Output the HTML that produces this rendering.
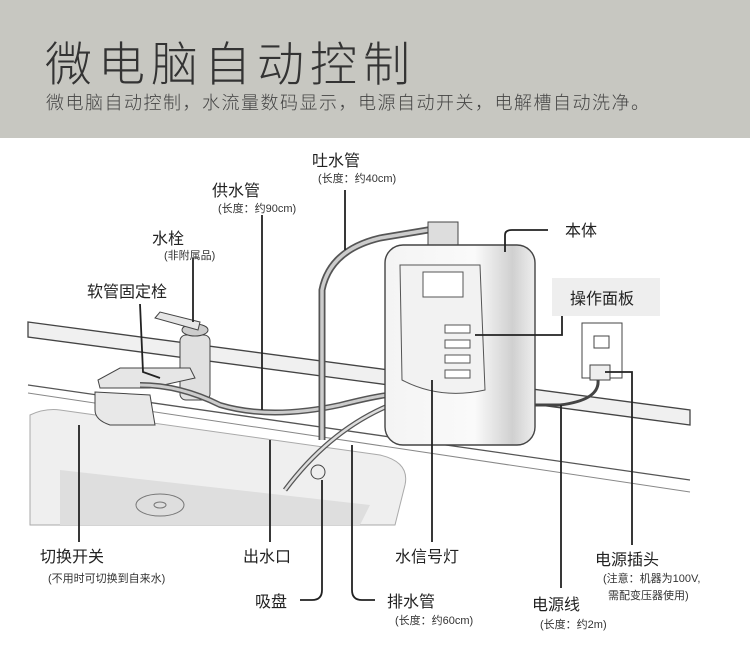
<!DOCTYPE html>
<html><head><meta charset="utf-8"><style>
html,body{margin:0;padding:0;background:#fff;}
body{width:750px;height:648px;position:relative;overflow:hidden;font-family:"Liberation Sans","Noto Sans CJK SC",sans-serif;}
.hdr{position:absolute;left:0;top:0;width:750px;height:138px;background:#c7c7c1;}
.t{position:absolute;left:45px;top:26px;font-size:47px;color:#333;letter-spacing:6px;font-weight:200;}
.s{position:absolute;left:46px;top:89px;font-size:18px;color:#444;letter-spacing:1.5px;font-weight:300;}
</style></head><body>
<div class="hdr"><div class="t">微电脑自动控制</div><div class="s">微电脑自动控制，水流量数码显示，电源自动开关，电解槽自动洗净。</div></div>
<svg width="750" height="648" style="position:absolute;left:0;top:0" font-family="Liberation Sans, Noto Sans CJK SC, sans-serif">
<defs><linearGradient id="g" x1="0" y1="0" x2="0" y2="1"><stop offset="0" stop-color="#e4e4e4"/><stop offset="1" stop-color="#f2f2f2"/></linearGradient>
<linearGradient id="b" x1="0" x2="1"><stop offset="0" stop-color="#f4f4f4"/><stop offset="0.6" stop-color="#fafafa"/><stop offset="0.85" stop-color="#d0d0d0"/><stop offset="1" stop-color="#eee"/></linearGradient></defs>
<!-- counter -->
<polygon points="28,322 690,410 690,425 28,337" fill="#f0f0f0" stroke="#444" stroke-width="1.3"/>
<line x1="28" y1="385" x2="690" y2="480" stroke="#555" stroke-width="1.3"/>
<line x1="28" y1="393" x2="690" y2="492" stroke="#888" stroke-width="1"/>
<!-- sink -->
<path d="M30,415 Q45,408 60,410 L380,455 Q410,462 405,485 L395,525 L30,525 Z" fill="#efefef" stroke="#aaa"/>
<path d="M60,470 L370,505 L360,525 L60,525 Z" fill="#dedede"/>
<ellipse cx="160" cy="505" rx="24" ry="11" fill="none" stroke="#777"/>
<ellipse cx="160" cy="505" rx="6" ry="3" fill="none" stroke="#777"/>
<!-- faucet -->
<rect x="180" y="335" width="30" height="65" rx="6" fill="#e0e0e0" stroke="#444"/>
<ellipse cx="195" cy="330" rx="13" ry="6" fill="#ccc" stroke="#444"/>
<path d="M155,318 L160,312 L200,322 L198,330 Z" fill="#e6e6e6" stroke="#444"/>
<path d="M190,368 L120,368 L98,380 L100,388 L150,388 L195,378 Z" fill="#e6e6e6" stroke="#444"/>
<path d="M95,392 L150,395 L155,425 L110,425 Q95,420 95,410 Z" fill="#e8e8e8" stroke="#444"/>
<!-- hoses -->
<path d="M140,385 Q180,385 220,405 Q270,420 340,405 Q380,395 390,395" fill="none" stroke="#555" stroke-width="6"/>
<path d="M140,385 Q180,385 220,405 Q270,420 340,405 Q380,395 390,395" fill="none" stroke="#ccc" stroke-width="3"/>
<path d="M322,440 L322,290 Q330,250 380,238 L440,228" fill="none" stroke="#555" stroke-width="7"/>
<path d="M322,440 L322,290 Q330,250 380,238 L440,228" fill="none" stroke="#ccc" stroke-width="3.5"/>
<path d="M285,490 Q330,430 390,405" fill="none" stroke="#555" stroke-width="5"/>
<path d="M285,490 Q330,430 390,405" fill="none" stroke="#ddd" stroke-width="2.5"/>
<circle cx="318" cy="472" r="7" fill="#eee" stroke="#444"/>
<!-- body -->
<rect x="428" y="222" width="30" height="25" fill="#ddd" stroke="#444"/>
<rect x="385" y="245" width="150" height="200" rx="18" fill="url(#b)" stroke="#444" stroke-width="1.4"/>
<path d="M400,265 L480,265 L485,390 Q440,400 402,380 Z" fill="#f2f2f2" stroke="#555"/>
<rect x="423" y="272" width="40" height="25" fill="#fff" stroke="#555"/>
<g fill="#fff" stroke="#555"><rect x="445" y="325" width="25" height="8"/><rect x="445" y="340" width="25" height="8"/><rect x="445" y="355" width="25" height="8"/><rect x="445" y="370" width="25" height="8"/></g>
<!-- plug / outlet -->
<rect x="582" y="323" width="40" height="55" fill="#fff" stroke="#444"/>
<rect x="594" y="336" width="15" height="12" fill="#fff" stroke="#444"/>
<rect x="590" y="365" width="20" height="15" fill="#eee" stroke="#444"/>
<path d="M598,380 Q600,400 560,405 L535,405" fill="none" stroke="#444" stroke-width="3"/>
<!-- leaders -->
<g fill="none" stroke="#222" stroke-width="1.8">
<path d="M79,425 L79,542"/><path d="M270,440 L270,542"/>
<path d="M322,480 L322,590 Q322,600 312,600 L300,600"/>
<path d="M352,445 L352,590 Q352,600 362,600 L375,600"/>
<path d="M432,380 L432,542"/><path d="M561,405 L561,588"/>
<path d="M605,372 L632,372 L632,545"/>
<path d="M475,335 L562,335 L562,316"/>
<path d="M505,252 L505,235 Q505,230 512,230 L548,230"/>
<path d="M345,190 L345,250"/><path d="M262,215 L262,410"/>
<path d="M193,258 L193,322"/><path d="M140,304 L143,372 L160,378"/>
</g>
<g fill="#222" font-size="16">
<text x="312" y="166">吐水管</text><text x="212" y="196">供水管</text><text x="152" y="244">水栓</text>
<text x="87" y="297">软管固定栓</text><text x="565" y="236">本体</text>
<text x="40" y="562">切换开关</text><text x="243" y="562">出水口</text><text x="255" y="607">吸盘</text>
<text x="387" y="607">排水管</text><text x="395" y="562">水信号灯</text><text x="532" y="610">电源线</text><text x="595" y="565">电源插头</text>
</g>
<rect x="552" y="278" width="108" height="38" fill="#eeeeee"/>
<text x="570" y="304" font-size="16" fill="#222">操作面板</text>
<g fill="#333" font-size="11">
<text x="318" y="182">(长度：约40cm)</text><text x="218" y="212">(长度：约90cm)</text><text x="164" y="259">(非附属品)</text>
<text x="48" y="582">(不用时可切换到自来水)</text><text x="395" y="624">(长度：约60cm)</text><text x="540" y="628">(长度：约2m)</text>
<text x="603" y="582">(注意：机器为100V,</text><text x="608" y="599">需配变压器使用)</text>
</g>
</svg>
</body></html>
